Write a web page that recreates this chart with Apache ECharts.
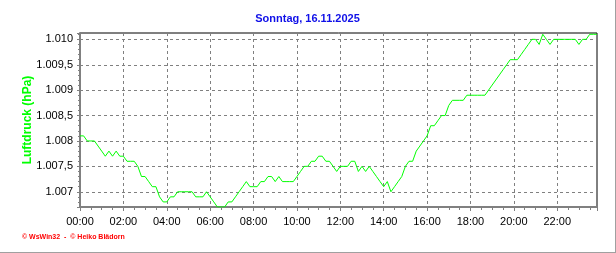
<!DOCTYPE html>
<html>
<head>
<meta charset="utf-8">
<script src="https://cdn.jsdelivr.net/npm/echarts@6/dist/echarts.min.js"></script>
<style>
html,body{margin:0;padding:0;background:#fff;}
#c{width:616px;height:253px;box-sizing:border-box;border-right:1px solid #a0a0a0;border-bottom:1px solid #a0a0a0;}
</style>
</head>
<body>
<div id="c"></div>
<script>
// Chart data
var titleText = 'Sonntag, 16.11.2025';
var footerText = '\u00a9 WsWin32  -  \u00a9 Heiko Bl\u00e4dorn';
var yName = 'Luftdruck (hPa)';
var stepMinutes = 10; // sampling interval of the readings
var pressure = [
  1008.1,1008.1,1008.0,1008.0,1008.0,
  1007.9,1007.8,1007.7,1007.8,1007.7,1007.8,1007.7,
  1007.7,1007.6,1007.6,1007.6,1007.5,
  1007.3,1007.3,1007.2,1007.1,1007.1,
  1006.9,1006.8,1006.8,1006.9,1006.9,
  1007.0,1007.0,1007.0,1007.0,1007.0,
  1006.9,1006.9,1006.9,1007.0,1006.9,
  1006.8,1006.7,1006.7,1006.7,1006.8,1006.8,1006.9,1007.0,
  1007.1,1007.2,1007.1,1007.1,1007.1,
  1007.2,1007.2,1007.3,1007.3,1007.2,
  1007.3,1007.2,1007.2,1007.2,1007.2,
  1007.3,1007.4,1007.5,1007.5,1007.6,1007.6,
  1007.7,1007.7,1007.6,1007.6,1007.5,1007.4,
  1007.5,1007.5,1007.5,1007.6,1007.6,1007.4,
  1007.5,1007.4,1007.5,1007.4,1007.3,1007.2,
  1007.1,1007.2,1007.0,1007.1,1007.2,1007.3,
  1007.5,1007.6,1007.6,1007.8,1007.9,1008.0,
  1008.1,1008.3,1008.3,1008.4,1008.5,1008.5,
  1008.7,1008.8,1008.8,1008.8,1008.8,
  1008.9,1008.9,1008.9,1008.9,1008.9,1008.9,
  1009.0,1009.1,1009.2,1009.3,1009.4,1009.5,
  1009.6,1009.6,1009.6,1009.7,1009.8,1009.9,
  1010.0,1010.0,1009.9,1010.1,1010.0,1009.9,1010.0,
  1010.0,1010.0,1010.0,1010.0,1010.0,1010.0,
  1009.9,1010.0,1010.0,1010.1,1010.1,1010.1
];
var yMin = 1006.7, yMax = 1010.125;
var xMin = 0, xMax = 1430, xInterval = 120;

var seriesData = pressure.map(function(v, i){ return [i * stepMinutes, v]; });

function fmtY(v){
  var r = Math.round(v * 10) / 10;
  var ip = Math.floor(r + 1e-9);
  var frac = Math.round((r - ip) * 10);
  var th = Math.floor(ip / 1000);
  var rest = String(ip - th * 1000);
  while (rest.length < 3) rest = '0' + rest;
  var s = th + '.' + rest;
  if (frac) s += ',' + frac;
  return s;
}
function fmtX(v){
  var h = Math.round(v / 60);
  return (h < 10 ? '0' : '') + h + ':00';
}

var chart = echarts.init(document.getElementById('c'), null, {renderer:'canvas'});
chart.setOption({
  animation: false,
  backgroundColor: '#fff',
  textStyle: {fontFamily: 'Liberation Sans, Arial, sans-serif'},
  title: [
    {text: titleText, left: 'center', top: 13, padding: 0,
     textStyle: {color: '#1010e8', fontSize: 11, fontWeight: 'bold', fontFamily: 'Liberation Sans, Arial, sans-serif'}},
    {text: footerText, left: 22, top: 234, padding: 0,
     textStyle: {color: '#ff0000', fontSize: 7, fontWeight: 'bold', fontFamily: 'Liberation Sans, Arial, sans-serif'}}
  ],
  grid: {left: 80, right: 18, top: 33, bottom: 45, show: true, borderColor: '#000', borderWidth: 1, backgroundColor: 'transparent'},
  xAxis: {
    type: 'value', min: xMin, max: xMax, interval: xInterval,
    axisLine: {show: true, onZero: false, lineStyle: {color: '#808080', width: 2}},
    axisTick: {show: true, length: 4, lineStyle: {color: '#808080'}},
    minorTick: {show: true, splitNumber: 4, length: 3, lineStyle: {color: '#808080'}},
    axisLabel: {formatter: fmtX, color: '#000', fontSize: 11, margin: 9, showMaxLabel: false,
      fontFamily: 'Liberation Sans, Arial, sans-serif'},
    splitLine: {show: true, showMinLine: false, showMaxLine: false, lineStyle: {color: '#808080', type: [3, 3], width: 1}}
  },
  yAxis: {
    type: 'value', min: yMin, max: yMax, splitNumber: 7,
    name: yName, nameLocation: 'middle', nameGap: 46, nameMoveOverlap: false,
    nameTextStyle: {color: '#00ff00', fontSize: 12, fontWeight: 'bold',
      fontFamily: 'Liberation Sans, Arial, sans-serif'},
    axisLine: {show: true, onZero: false, lineStyle: {color: '#808080', width: 2}},
    axisTick: {show: true, length: 3, lineStyle: {color: '#808080'}},
    minorTick: {show: true, splitNumber: 5, length: 2, lineStyle: {color: '#808080'}},
    axisLabel: {formatter: fmtY, color: '#000', fontSize: 11, margin: 7, showMinLabel: false, showMaxLabel: false,
      fontFamily: 'Liberation Sans, Arial, sans-serif'},
    splitLine: {show: true, showMinLine: false, showMaxLine: false, lineStyle: {color: '#808080', type: [3, 3], width: 1}}
  },
  series: [{
    type: 'line', data: seriesData, showSymbol: false, symbol: 'none',
    lineStyle: {color: '#00ff00', width: 1}, clip: true
  }]
});
</script>
</body>
</html>
